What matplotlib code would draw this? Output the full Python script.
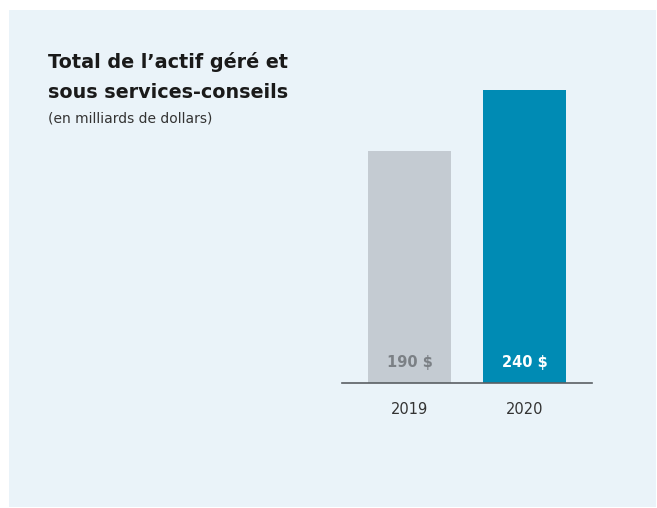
import matplotlib.pyplot as plt
from matplotlib.patches import Rectangle

years = ['2019', '2020']
values = [190, 240]
value_labels = ['190 $', '240 $']
bar_colors = ['#c4cbd2', '#008bb4']
label_colors = ['#7b8085', '#ffffff']

W, H = 657, 508
fig = plt.figure(figsize=(W / 100, H / 100), dpi=100)
fig.patch.set_facecolor('white')

# light blue panel behind everything
fig.patches.append(Rectangle((9 / W, 1 - 507 / H), 647 / W, 497 / H,
                             transform=fig.transFigure, facecolor='#eaf3f9',
                             edgecolor='none', zorder=-5))

# axes placed so the baseline runs from x=342 to x=592 at y=383
ax = fig.add_axes([342 / W, 1 - 383 / H, 250 / W, 293 / H])
ax.set_zorder(2)
ax.set_facecolor('none')
x = range(len(years))
ax.bar(x, values, width=0.722, color=bar_colors, zorder=2)
ax.set_xlim(-0.587, 1.587)
ax.set_ylim(0, 240)

for i, (lab, c) in enumerate(zip(value_labels, label_colors)):
    ax.text(i, 21 * 240 / 293, lab, ha='center', va='center', color=c,
            fontsize=10.5, fontweight='bold', family='DejaVu Sans', zorder=3)

for s in ['top', 'right', 'left']:
    ax.spines[s].set_visible(False)
ax.spines['bottom'].set_color('#5a5f63')
ax.spines['bottom'].set_linewidth(1.2)
ax.set_yticks([])
ax.set_xticks(list(x))
ax.set_xticklabels(years, fontsize=10.5, color='#333333', family='DejaVu Sans')
ax.tick_params(axis='x', length=0, pad=14)

# title block
fig.text(48 / W, 1 - 62 / H, 'Total de l\u2019actif géré et', fontsize=13.8,
         fontweight='bold', family='DejaVu Sans', color='#1a1a1a', va='center')
fig.text(48 / W, 1 - 92 / H, 'sous services-conseils', fontsize=13.8,
         fontweight='bold', family='DejaVu Sans', color='#1a1a1a', va='center')
fig.text(48 / W, 1 - 118 / H, '(en milliards de dollars)', fontsize=10,
         family='DejaVu Sans', color='#333333', va='center')

fig.savefig('out.png', dpi=100, facecolor=fig.get_facecolor())
